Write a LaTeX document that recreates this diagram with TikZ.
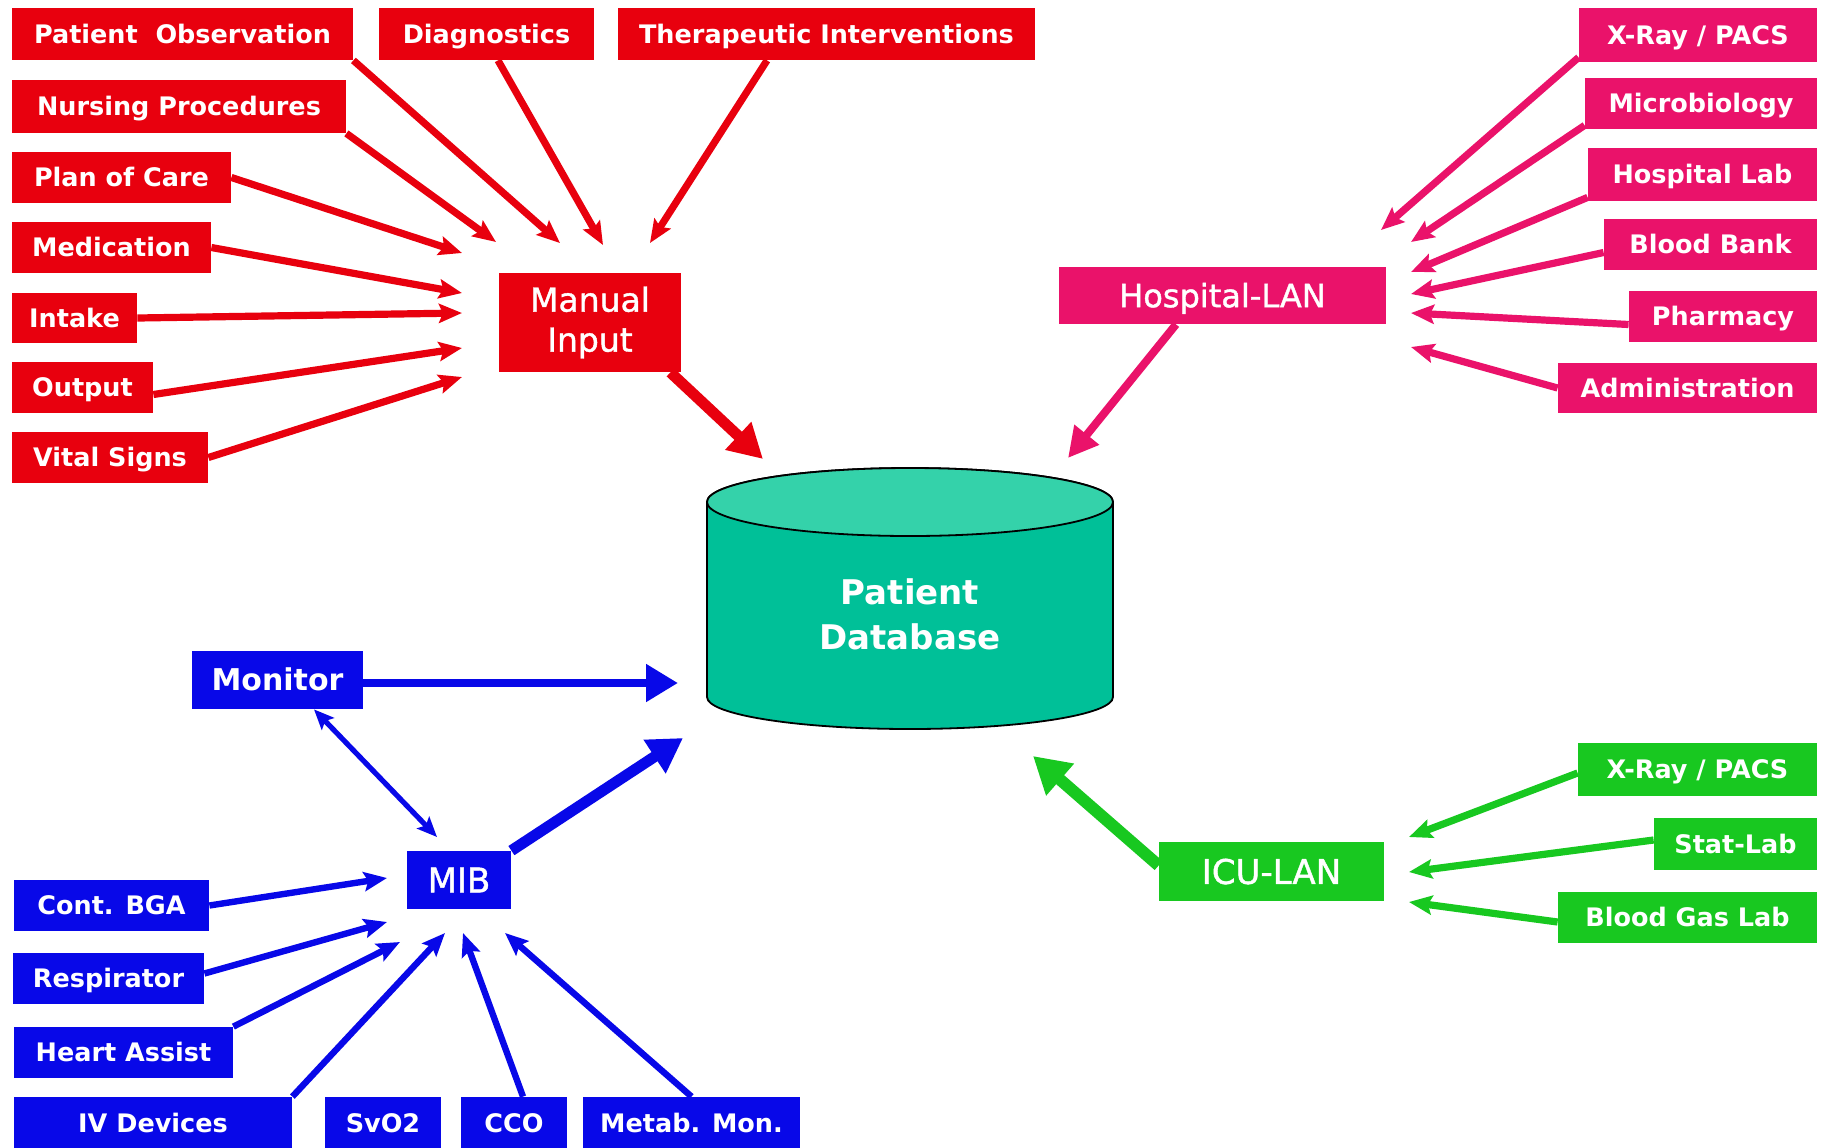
\documentclass[tikz,border=0pt]{standalone}
\usepackage{fontspec}
\setmainfont{DejaVu Sans}
\newfontfamily\medfont[FakeBold=1.2]{DejaVu Sans}
\usetikzlibrary{arrows.meta,calc}
\definecolor{cred}{RGB}{232,0,14}
\definecolor{cpink}{RGB}{234,18,106}
\definecolor{cblue}{RGB}{8,8,232}
\definecolor{cgreen}{RGB}{24,200,32}
\definecolor{dbside}{RGB}{0,192,152}
\definecolor{dbtop}{RGB}{52,210,170}
\tikzset{
  boxst/.style={inner sep=0pt, text=white, align=center, font=\fontsize{12.75}{15}\selectfont\bfseries},
  onel/.style={text height=#1, text depth=0pt},
  thinarr/.style={line width=3.6pt, -{Stealth[length=11.5pt,width=9.5pt,inset=2pt]}},
  bluearr/.style={cblue, line width=3.2pt, -{Stealth[length=11.5pt,width=9.5pt,inset=2pt]}},
  bigarr/.style={line width=5.5pt, -{Triangle[length=17pt,width=18pt]}},
  midarr/.style={line width=4pt, -{Triangle[length=15pt,width=15pt]}},
}
\newcommand\bx[8]{\node[boxst,fill=#6,minimum width={(#4-#2)*0.5pt},minimum height={(#5-#3)*0.5pt},#8] (#1) at ({(#2+#4)/2},{(#3+#5)/2}) {#7};}
\begin{document}
\begin{tikzpicture}[x=0.5pt,y=-0.5pt]
\useasboundingbox (0,0) rectangle (1822,1147);
\fill[white] (0,0) rectangle (1822,1147);
% ---------- red group ----------
\bx{po}{12}{8}{353}{60}{cred}{Patient\ \ Observation}{onel=9.3pt}
\bx{dg}{379}{8}{594}{60}{cred}{Diagnostics}{onel=9.3pt}
\bx{th}{618}{8}{1035}{60}{cred}{Therapeutic Interventions}{onel=9.3pt}
\bx{np}{12}{80}{346}{133}{cred}{Nursing Procedures}{onel=9.3pt}
\bx{pc}{12}{152}{231}{203}{cred}{Plan of Care}{onel=9.3pt}
\bx{med}{12}{222}{211}{273}{cred}{Medication}{onel=9.3pt}
\bx{intk}{12}{293}{137}{343}{cred}{Intake}{onel=9.3pt}
\bx{outp}{12}{362}{153}{413}{cred}{Output}{onel=9.3pt}
\bx{vs}{12}{432}{208}{483}{cred}{Vital Signs}{onel=9.3pt}
\bx{mi}{499}{273}{681}{372}{cred}{Manual\\Input}{font=\medfont\fontsize{16.5}{20}\selectfont}
% ---------- pink group ----------
\bx{xr}{1579}{8}{1817}{62}{cpink}{X-Ray / PACS}{onel=9.3pt}
\bx{mb}{1585}{78}{1817}{129}{cpink}{Microbiology}{onel=9.3pt}
\bx{lab}{1588}{148}{1817}{201}{cpink}{Hospital Lab}{onel=9.3pt}
\bx{bb}{1604}{219}{1817}{270}{cpink}{Blood Bank}{onel=9.3pt}
\bx{ph}{1629}{291}{1817}{342}{cpink}{Pharmacy}{onel=9.3pt}
\bx{ad}{1558}{363}{1817}{413}{cpink}{Administration}{onel=9.3pt}
\bx{hl}{1059}{267}{1386}{324}{cpink}{Hospital-LAN}{font=\medfont\fontsize{16}{19}\selectfont,onel=11.7pt}
% ---------- green group ----------
\bx{gx}{1578}{743}{1817}{796}{cgreen}{X-Ray / PACS}{onel=9.3pt}
\bx{sl}{1654}{818}{1817}{870}{cgreen}{Stat-Lab}{onel=9.3pt}
\bx{bg}{1558}{892}{1817}{943}{cgreen}{Blood Gas Lab}{onel=9.3pt}
\bx{il}{1159}{842}{1384}{901}{cgreen}{ICU-LAN}{font=\medfont\fontsize{17}{20}\selectfont,onel=12.4pt}
% ---------- blue group ----------
\bx{mo}{192}{651}{363}{709}{cblue}{Monitor}{font=\fontsize{15}{18}\selectfont\bfseries,onel=10.9pt}
\bx{mib}{407}{851}{511}{909}{cblue}{MIB}{font=\medfont\fontsize{17}{20}\selectfont,onel=12.4pt}
\bx{cb}{14}{880}{209}{931}{cblue}{Cont. BGA}{onel=9.3pt}
\bx{rs}{13}{953}{204}{1004}{cblue}{Respirator}{onel=9.3pt}
\bx{ha}{14}{1027}{233}{1078}{cblue}{Heart Assist}{onel=9.3pt}
\bx{iv}{14}{1097}{292}{1149}{cblue}{IV Devices}{onel=9.3pt}
\bx{sv}{325}{1097}{441}{1149}{cblue}{SvO2}{onel=9.3pt}
\bx{cco}{461}{1097}{567}{1149}{cblue}{CCO}{onel=9.3pt}
\bx{mm}{583}{1097}{800}{1149}{cblue}{Metab. Mon.}{onel=9.3pt}
% ---------- database ----------
\path[fill=dbside,draw=black,line width=0.9pt] (707,502) -- (707,697)
  arc[start angle=180,end angle=360,x radius=101.5pt,y radius=16pt] -- (1113,502)
  arc[start angle=0,end angle=180,x radius=101.5pt,y radius=17pt] -- cycle;
\path[fill=dbtop,draw=black,line width=0.9pt] (910,502) ellipse[x radius=101.5pt,y radius=17pt];
\node[text=white,align=center,font=\fontsize{17}{22.5}\selectfont\bfseries] (db) at (910,614) {Patient\\Database};
% ---------- arrow tip coordinates ----------
\coordinate (tpo) at (560,243);
\coordinate (tnp) at (496,242);
\coordinate (tpc) at (462,253);
\coordinate (tmed) at (462,293);
\coordinate (tin) at (462,313);
\coordinate (tout) at (462,348);
\coordinate (tvs) at (462,377);
\coordinate (tdg) at (603,245);
\coordinate (tth) at (650,243);
\coordinate (tmi) at (763,459);
\coordinate (txr) at (1381,230);
\coordinate (tmb) at (1411,242);
\coordinate (tlab) at (1411,272);
\coordinate (tbb) at (1411,294);
\coordinate (tph) at (1411,313);
\coordinate (tad) at (1411,347);
\coordinate (thl) at (1068,458);
\coordinate (tgx) at (1409,837);
\coordinate (tsl) at (1409,872);
\coordinate (tbg) at (1409,902);
\coordinate (til) at (1033,756);
\coordinate (tmo) at (678,683);
\coordinate (tmib) at (683,738);
\coordinate (tmm) at (437,837);
\coordinate (tcb) at (387,878);
\coordinate (trs) at (387,922);
\coordinate (tha) at (400,942);
\coordinate (tiv) at (445,933);
\coordinate (tcco) at (463,933);
\coordinate (tmeta) at (505,933);
% ---------- red arrows ----------
\begin{scope}[cred]
\draw[thinarr] (po.south east) -- (tpo);
\draw[thinarr] (np.south east) -- (tnp);
\draw[thinarr] (pc.east) -- (tpc);
\draw[thinarr] (med.east) -- (tmed);
\draw[thinarr] (intk.east) -- (tin);
\draw[thinarr] ([yshift=-3.5pt]outp.east) -- (tout);
\draw[thinarr] (vs.east) -- (tvs);
\draw[thinarr] ([xshift=5.75pt]dg.south) -- (tdg);
\draw[thinarr] ([xshift=-29.75pt]th.south) -- (tth);
\draw[bigarr] ([xshift=-5.5pt]mi.south east) -- (tmi);
\end{scope}
% ---------- pink arrows ----------
\begin{scope}[cpink]
\draw[thinarr] ([yshift=2.5pt]xr.south west) -- (txr);
\draw[thinarr] ([yshift=2pt]mb.south west) -- (tmb);
\draw[thinarr] ([yshift=2pt]lab.south west) -- (tlab);
\draw[thinarr] ([yshift=-4pt]bb.west) -- (tbb);
\draw[thinarr] ([yshift=-4pt]ph.west) -- (tph);
\draw[thinarr] (ad.west) -- (tad);
\draw[midarr] ([xshift=-23.25pt]hl.south) -- (thl);
\end{scope}
% ---------- green arrows ----------
\begin{scope}[cgreen]
\draw[thinarr] ([yshift=-1.75pt]gx.west) -- (tgx);
\draw[thinarr] ([yshift=2pt]sl.west) -- (tsl);
\draw[thinarr] ([yshift=-2.25pt]bg.west) -- (tbg);
\draw[bigarr,line width=6pt,-{Triangle[length=18pt,width=20pt]}] ([yshift=3pt]il.west) -- (til);
\end{scope}
% ---------- blue arrows ----------
\draw[cblue,line width=4pt,-{Triangle[length=16pt,width=18pt]}] ([yshift=-1.5pt]mo.east) -- (tmo);
\draw[cblue,line width=5.5pt,-{Triangle[length=17pt,width=19pt]}] (mib.north east) -- (tmib);
\draw[cblue,line width=2.6pt,{Stealth[length=10pt,width=8.5pt,inset=2pt]}-{Stealth[length=10pt,width=8.5pt,inset=2pt]}] ([xshift=18.25pt]mo.south) -- (tmm);
\draw[bluearr] (cb.east) -- (tcb);
\draw[bluearr] ([yshift=2.5pt]rs.east) -- (trs);
\draw[bluearr] (ha.north east) -- (tha);
\draw[bluearr] (iv.north east) -- (tiv);
\draw[bluearr] ([xshift=4.5pt]cco.north) -- (tcco);
\draw[bluearr] (mm.north) -- (tmeta);
\end{tikzpicture}
\end{document}
